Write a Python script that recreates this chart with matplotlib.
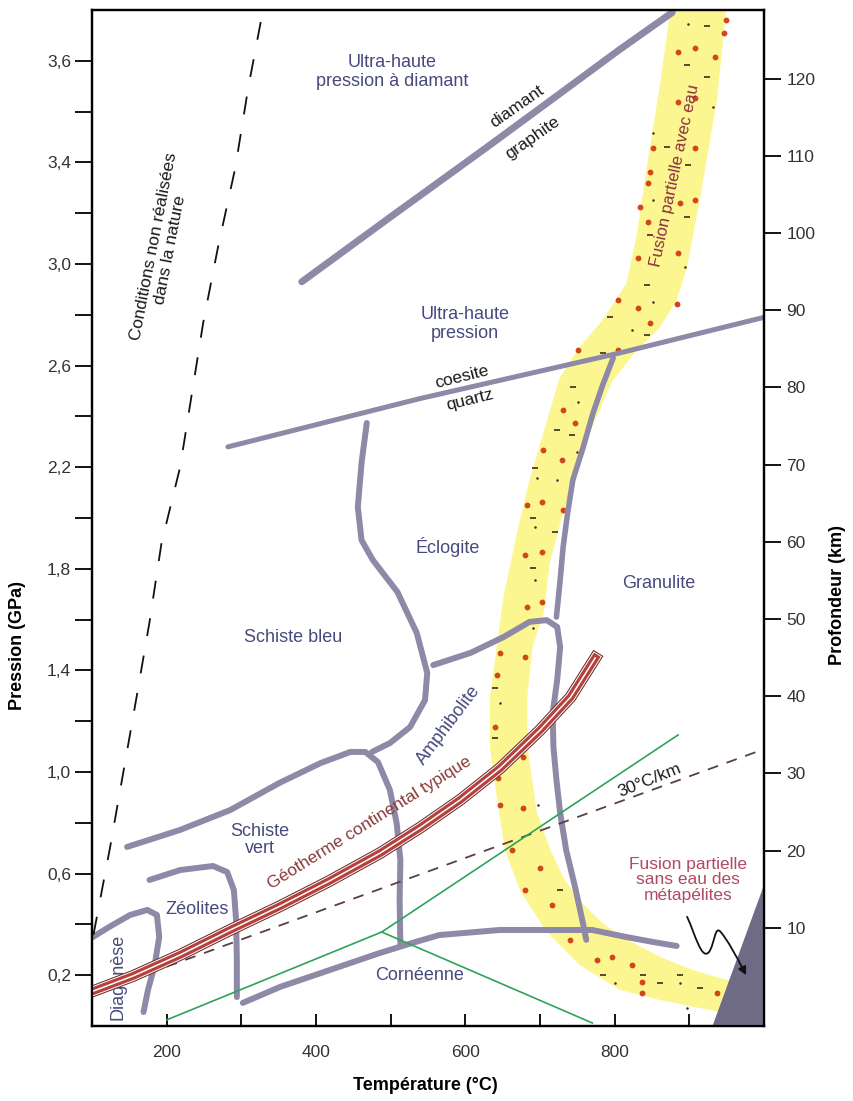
import matplotlib.pyplot as plt
from matplotlib.path import Path
from matplotlib.patches import FancyArrowPatch
import matplotlib.patheffects as pe

plt.rcParams['font.family'] = ['Liberation Sans', 'DejaVu Sans']

# ---- values (T in °C, P in GPa) ----
limit_T = [102, 124, 142, 160, 177, 193, 218, 249, 269, 292, 309, 329]
limit_P = [0.36, 0.70, 1.00, 1.30, 1.59, 1.90, 2.20, 2.77, 3.07, 3.38, 3.69, 4.00]

diamond_T = [381, 495, 629, 717, 807, 877]
diamond_P = [2.93, 3.175, 3.46, 3.65, 3.845, 3.99]

coesite_T = [282, 539, 807, 1000]
coesite_P = [2.28, 2.47, 2.65, 2.79]

bs_gs_T = [147, 218, 285, 351, 406, 446, 466, 483, 499, 508, 513, 512, 513]
bs_gs_P = [0.705, 0.772, 0.850, 0.957, 1.035, 1.079, 1.079, 1.039, 0.929, 0.799, 0.654, 0.496, 0.319]

bs_ecl_T = [468, 461, 456, 461, 476, 509, 535, 549, 546, 526, 499, 475]
bs_ecl_P = [2.374, 2.217, 2.043, 1.913, 1.835, 1.709, 1.547, 1.390, 1.283, 1.177, 1.114, 1.079]

amph_gran_T = [557, 607, 651, 686, 709, 723, 727, 723, 717, 718, 722, 727, 735, 747, 758, 762]
amph_gran_P = [1.421, 1.469, 1.531, 1.591, 1.598, 1.571, 1.492, 1.362, 1.232, 1.098, 0.969,
               0.839, 0.693, 0.547, 0.398, 0.339]

ecl_gran_T = [722, 727, 731, 737, 744, 758, 771, 784, 798]
ecl_gran_P = [1.61, 1.756, 1.886, 2.02, 2.15, 2.28, 2.413, 2.524, 2.63]

diag_T = [101, 123, 151, 174, 187, 190, 184, 175, 169]
diag_P = [0.350, 0.390, 0.437, 0.457, 0.437, 0.350, 0.240, 0.142, 0.055]

zeol_T = [177, 218, 262, 281, 290, 293, 294, 294]
zeol_P = [0.575, 0.614, 0.630, 0.606, 0.535, 0.417, 0.260, 0.114]

horn_T = [302, 352, 418, 485, 529, 565, 646, 726, 770, 816, 851, 883]
horn_P = [0.091, 0.154, 0.220, 0.287, 0.327, 0.358, 0.378, 0.378, 0.378, 0.350, 0.331, 0.315]

# wet melting band: left edge top->bottom, right edge bottom->top
band_left_T = [877, 861, 843, 830, 816, 784, 750, 726, 686, 670, 651, 642, 633, 633, 642,
               653, 673, 707, 753, 807, 861, 941, 980]
band_left_P = [4.05, 3.713, 3.382, 3.122, 2.925, 2.78, 2.661, 2.55, 2.15, 1.953, 1.689, 1.492,
               1.295, 1.098, 0.902, 0.693, 0.535, 0.378, 0.24, 0.142, 0.102, 0.055, 0.04]
band_right_T = [985, 950, 905, 861, 817, 783, 753, 733, 714, 696, 683, 683, 690, 705, 713,
                731, 758, 797, 830, 861, 883, 897, 914, 937, 951]
band_right_P = [0.17, 0.181, 0.22, 0.272, 0.339, 0.406, 0.496, 0.575, 0.693, 0.839, 1.098,
                1.295, 1.492, 1.626, 1.823, 2.02, 2.28, 2.54, 2.661, 2.752, 2.858, 2.988,
                3.252, 3.646, 4.05]

# red dots, small dashes and tiny specks inside the band
dot_T = [949, 946, 885, 908, 934, 885, 908, 851, 908, 847, 845, 834, 888, 908, 845, 831, 885,
         805, 831, 884, 847, 751, 805, 731, 747, 704, 730, 683, 703, 731, 680, 703, 683, 703,
         646, 680, 642, 640, 677, 644, 646, 677, 663, 700, 680, 716, 740, 776, 796, 823, 837,
         837, 937]
dot_P = [3.961, 3.909, 3.835, 3.850, 3.815, 3.638, 3.654, 3.457, 3.457, 3.362, 3.319, 3.224,
         3.240, 3.252, 3.165, 3.024, 3.043, 2.858, 2.827, 2.843, 2.768, 2.661, 2.661, 2.425,
         2.374, 2.268, 2.228, 2.051, 2.063, 2.031, 1.854, 1.866, 1.650, 1.669, 1.469, 1.453,
         1.382, 1.177, 1.059, 0.976, 0.870, 0.858, 0.693, 0.622, 0.535, 0.476, 0.339, 0.260,
         0.272, 0.240, 0.173, 0.130, 0.130]
dash_T = [924, 897, 924, 870, 898, 897, 847, 843, 794, 843, 784, 744, 723, 743, 693, 691, 720,
          691, 640, 640, 727, 784, 838, 861, 888, 914]
dash_P = [3.937, 3.783, 3.736, 3.461, 3.390, 3.185, 3.114, 2.917, 2.791, 2.720, 2.650, 2.516,
          2.346, 2.327, 2.197, 2.000, 1.945, 1.803, 1.331, 1.134, 0.535, 0.201, 0.201, 0.169,
          0.201, 0.150]
speck_T = [898, 932, 851, 851, 894, 851, 823, 751, 750, 696, 723, 693, 693, 691, 646, 697,
           801, 888, 897]
speck_P = [3.945, 3.618, 3.516, 3.252, 2.988, 2.850, 2.740, 2.457, 2.260, 2.157, 2.149, 1.964,
           1.756, 1.567, 1.272, 0.870, 0.169, 0.169, 0.071]

geo_T = [95, 155, 218, 285, 352, 418, 486, 539, 593, 647, 700, 741, 774]
geo_P = [0.130, 0.197, 0.280, 0.378, 0.472, 0.571, 0.681, 0.780, 0.890, 1.016, 1.165, 1.295, 1.449]

grad30_T = [150, 1000]
grad30_P = [0.18, 1.09]

triple_T, triple_P = 488, 0.370
ky_sil_T, ky_sil_P = [triple_T, 885], [triple_P, 1.146]
and_ky_T, and_ky_P = [200, triple_T], [0.024, triple_P]
and_sil_T, and_sil_P = [triple_T, 770], [triple_P, 0.012]

dry_T = [932, 1000, 1000]
dry_P = [0.0, 0.547, 0.0]

x_ticks = [200, 300, 400, 500, 600, 700, 800, 900]
x_labels = ['200', '', '400', '', '600', '', '800', '']
y_ticks = [0.2, 0.4, 0.6, 0.8, 1.0, 1.2, 1.4, 1.6, 1.8, 2.0, 2.2, 2.4, 2.6, 2.8, 3.0, 3.2, 3.4, 3.6, 3.8]
y_labels = ['0,2', '', '0,6', '', '1,0', '', '1,4', '', '1,8', '', '2,2', '', '2,6', '', '3,0',
            '', '3,4', '', '3,6']
depth_ticks = [10, 20, 30, 40, 50, 60, 70, 80, 90, 100, 110, 120]

GRAY = '#8d89a6'
BLUE = '#474a7c'

fig = plt.figure(figsize=(8.54, 11.01), dpi=100)
ax = fig.add_axes([92 / 854, 75 / 1101, 672 / 854, 1016 / 1101])
ax.set_xlim(100, 1000)
ax.set_ylim(0, 4.0)

# yellow band with red dots
ax.fill(band_left_T + band_right_T, band_left_P + band_right_P, color='#fcf690',
        linewidth=0, zorder=1)
ax.plot(dot_T, dot_P, 'o', color='#d2461e', ms=4.2, mew=0, zorder=1.5)
ax.plot(dash_T, dash_P, '_', color='#3b2b20', ms=5, mew=1.2, zorder=1.5)
ax.plot(speck_T, speck_P, 'o', color='#3b2b20', ms=1.8, mew=0, zorder=1.5)

# reaction boundaries
for tt, pp, lw in [(diamond_T, diamond_P, 5), (coesite_T, coesite_P, 3.6),
                   (bs_gs_T, bs_gs_P, 4.3), (bs_ecl_T, bs_ecl_P, 4.3),
                   (amph_gran_T, amph_gran_P, 4.3), (ecl_gran_T, ecl_gran_P, 4.0),
                   (diag_T, diag_P, 4.3), (zeol_T, zeol_P, 4.3), (horn_T, horn_P, 4.3)]:
    ax.plot(tt, pp, color=GRAY, lw=lw, solid_capstyle='round', solid_joinstyle='round', zorder=2)

ax.plot(limit_T, limit_P, color='#111111', lw=1.3, linestyle=(0, (10, 11)), zorder=2)

ax.plot(grad30_T, grad30_P, color='#5b3d46', lw=1.3, linestyle=(0, (6, 5)), zorder=3)

for tt, pp in [(ky_sil_T, ky_sil_P), (and_ky_T, and_ky_P), (and_sil_T, and_sil_P)]:
    ax.plot(tt, pp, color='#2ea35a', lw=1.2, zorder=3)

ax.plot(geo_T, geo_P, color='white', lw=1.1, zorder=4,
        path_effects=[pe.Stroke(linewidth=8.5, foreground='#6e2b2b'),
                      pe.Stroke(linewidth=7.0, foreground='white'),
                      pe.Stroke(linewidth=5.6, foreground='#b5403c'),
                      pe.Normal()])

ax.fill(dry_T, dry_P, color='#6f6a85', zorder=5)

# curly arrow towards the dry melting field
squiggle = Path([(897, 0.43), (908, 0.36), (916, 0.26), (926, 0.29),
                 (934, 0.32), (934, 0.40), (942, 0.37),
                 (951, 0.34), (964, 0.27), (976, 0.20)],
                [Path.MOVETO] + [Path.CURVE4] * 9)
ax.add_patch(FancyArrowPatch(path=squiggle, arrowstyle='-|>', mutation_scale=12,
                             color='#111111', lw=1.3, zorder=6))

# labels
fs = 13
ax.text(502, 3.756, 'Ultra-haute\npression à diamant', color=BLUE, fontsize=fs,
        ha='center', va='center', linespacing=1.1)
ax.text(600, 2.764, 'Ultra-haute\npression', color=BLUE, fontsize=fs,
        ha='center', va='center', linespacing=1.1)
ax.text(577, 1.886, 'Éclogite', color=BLUE, fontsize=fs, ha='center', va='center')
ax.text(369, 1.531, 'Schiste bleu', color=BLUE, fontsize=fs, ha='center', va='center')
ax.text(859, 1.744, 'Granulite', color=BLUE, fontsize=fs, ha='center', va='center')
ax.text(577, 1.185, 'Amphibolite', color=BLUE, fontsize=fs, ha='center', va='center',
        rotation=53, rotation_mode='anchor')
ax.text(325, 0.732, 'Schiste\nvert', color=BLUE, fontsize=fs, ha='center', va='center',
        linespacing=1.05)
ax.text(241, 0.457, 'Zéolites', color=BLUE, fontsize=fs, ha='center', va='center')
ax.text(135, 0.193, 'Diagenèse', color=BLUE, fontsize=fs, ha='center', va='center', rotation=90)
ax.text(539, 0.20, 'Cornéenne', color=BLUE, fontsize=fs, ha='center', va='center')

ax.text(669, 3.618, 'diamant', color='#1a1a1a', fontsize=12.5, ha='center', va='center',
        rotation=35, rotation_mode='anchor')
ax.text(690, 3.496, 'graphite', color='#1a1a1a', fontsize=12.5, ha='center', va='center',
        rotation=35, rotation_mode='anchor')
ax.text(595, 2.555, 'coesite', color='#1a1a1a', fontsize=12.5, ha='center', va='center',
        rotation=14, rotation_mode='anchor')
ax.text(606, 2.465, 'quartz', color='#1a1a1a', fontsize=12.5, ha='center', va='center',
        rotation=14, rotation_mode='anchor')
ax.text(194, 3.063, 'Conditions non réalisées\ndans la nature', color='#1a1a1a', fontsize=12.5,
        ha='center', va='center', rotation=79, rotation_mode='anchor', linespacing=1.1)
ax.text(847, 0.969, '30°C/km', color='#1a1a1a', fontsize=12.5, ha='center', va='center',
        rotation=22, rotation_mode='anchor')
ax.text(472, 0.80, 'Géotherme continental typique', color='#8b3a3a', fontsize=12.5,
        ha='center', va='center', rotation=32, rotation_mode='anchor')
ax.text(881, 3.35, 'Fusion partielle avec eau', color='#8b3040', fontsize=12,
        ha='center', va='center', rotation=78, rotation_mode='anchor', zorder=6)
ax.text(898, 0.575, 'Fusion partielle\nsans eau des\nmétapélites', color='#b04a63',
        fontsize=12.5, ha='center', va='center', linespacing=1.05)

# axes and ticks
ax.set_xticks(x_ticks)
ax.set_xticklabels(x_labels)
ax.set_yticks(y_ticks)
ax.set_yticklabels(y_labels)
ax.tick_params(axis='x', direction='in', length=9, width=1.3, pad=14, labelsize=12.5,
               labelcolor='#333333')
ax.tick_params(axis='y', direction='out', length=12, width=1.3, pad=3, labelsize=12.5,
               labelcolor='#333333')
for s in ax.spines.values():
    s.set_linewidth(1.6)

ax2 = ax.twinx()
ax2.set_ylim(-2.72, 128.9)
ax2.set_yticks(depth_ticks)
ax2.tick_params(axis='y', direction='out', length=12, width=1.3, pad=4, labelsize=12.5,
                labelcolor='#333333')
for s in ax2.spines.values():
    s.set_linewidth(1.6)

fig.text(425 / 854, 1 - 1085 / 1101, 'Température (°C)', ha='center', va='center',
         fontsize=13, fontweight='bold')
fig.text(18 / 854, 1 - 645 / 1101, 'Pression (GPa)', ha='center', va='center',
         fontsize=13, fontweight='bold', rotation=90)
fig.text(838 / 854, 1 - 595 / 1101, 'Profondeur (km)', ha='center', va='center',
         fontsize=13, fontweight='bold', rotation=90)

fig.savefig('out.png', dpi=100)
